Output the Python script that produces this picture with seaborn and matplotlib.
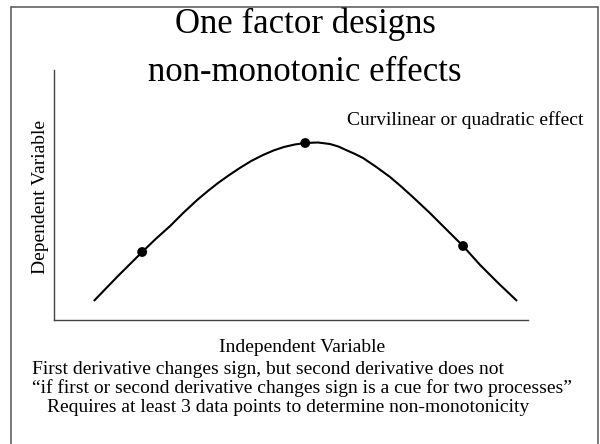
import matplotlib
matplotlib.use("Agg")
import matplotlib.pyplot as plt
from matplotlib.lines import Line2D
import seaborn as sns
import pandas as pd

# ---- data ----
curve_x = [0.84, 1.35, 1.86, 2.15, 2.45, 2.73, 3.02, 3.24, 3.46, 3.69, 3.92,
           4.16, 4.41, 4.63, 4.85, 5.08, 5.30, 5.57, 5.82, 6.00, 6.16, 6.34,
           6.52, 6.80, 7.09, 7.33, 7.57, 7.93, 8.29, 8.63, 8.99, 9.37, 9.77]
curve_y = [0.76, 1.76, 2.72, 3.25, 3.76, 4.29, 4.80, 5.15, 5.48, 5.79, 6.08,
           6.36, 6.60, 6.78, 6.92, 7.02, 7.08, 7.10, 7.04, 6.94, 6.80, 6.65,
           6.48, 6.12, 5.72, 5.33, 4.92, 4.28, 3.60, 2.96, 2.20, 1.48, 0.76]
point_x = [1.86, 5.30, 8.63]
point_y = [2.72, 7.08, 2.96]

title_lines = ["One factor designs", "non-monotonic effects"]
effect_label = "Curvilinear or quadratic effect"
x_label = "Independent Variable"
y_label = "Dependent Variable"
notes = [
    "First derivative changes sign, but second derivative does not",
    "\u201cif first or second derivative changes sign is a cue for two processes\u201d",
    "Requires at least 3 data points to determine non-monotonicity",
]

sns.set_theme(style="white")
plt.rcParams["font.family"] = ["Liberation Serif", "DejaVu Serif"]
plt.rcParams["text.color"] = "black"
plt.rcParams["axes.labelcolor"] = "black"

W, H = 600, 444
fig = plt.figure(figsize=(W / 100, H / 100), dpi=100)
fig.patch.set_facecolor("white")

def fx(px):
    return px / W

def fy(py):
    return 1 - py / H

ax = fig.add_axes([fx(54), fy(320), (528 - 54) / W, (320 - 70) / H])
curve_df = pd.DataFrame({"x": curve_x, "y": curve_y})
pts_df = pd.DataFrame({"x": point_x, "y": point_y})
sns.lineplot(data=curve_df, x="x", y="y", sort=False, estimator=None,
             color="black", linewidth=1.5, ax=ax,
             solid_joinstyle="round", solid_capstyle="butt")
sns.scatterplot(data=pts_df, x="x", y="y", color="black", s=50,
                edgecolor="none", ax=ax, zorder=3)
ax.set_xlim(0, 10)
ax.set_ylim(0, 10)
ax.set_xticks([])
ax.set_yticks([])
for s in ["top", "right"]:
    ax.spines[s].set_visible(False)
for s in ["left", "bottom"]:
    ax.spines[s].set_color("#444444")
    ax.spines[s].set_linewidth(1.0)
ax.set_facecolor("white")

ax.set_xlabel(x_label, fontsize=14, color="black", va="baseline")
ax.xaxis.set_label_coords((302 - 54) / 474, (320 - 352) / 250)
ax.set_ylabel(y_label, fontsize=14, color="black", va="baseline")
ax.yaxis.set_label_coords((45 - 54) / 474, (320 - 197.5) / 250)

# title
fig.text(fx(305), fy(33), title_lines[0], fontsize=25, color="black",
         ha="center", va="baseline")
fig.text(fx(305), fy(81), title_lines[1], fontsize=25, color="black",
         ha="center", va="baseline")

fig.text(fx(347), fy(125), effect_label, fontsize=14, color="black",
         ha="left", va="baseline")

fig.text(fx(32), fy(374), notes[0], fontsize=14, color="black", ha="left", va="baseline")
fig.text(fx(32), fy(393), notes[1], fontsize=14, color="black", ha="left", va="baseline")
fig.text(fx(47), fy(412), notes[2], fontsize=14, color="black", ha="left", va="baseline")

# slide frame
frame_kw = dict(color="#555555", linewidth=1.1, transform=fig.transFigure)
fig.add_artist(Line2D([fx(11), fx(11)], [fy(7), fy(444)], **frame_kw))
fig.add_artist(Line2D([fx(11), fx(598)], [fy(7), fy(7)], **frame_kw))
fig.add_artist(Line2D([fx(598), fx(598)], [fy(7), fy(444)], **frame_kw))

fig.savefig("out.png", dpi=100, facecolor="white")
